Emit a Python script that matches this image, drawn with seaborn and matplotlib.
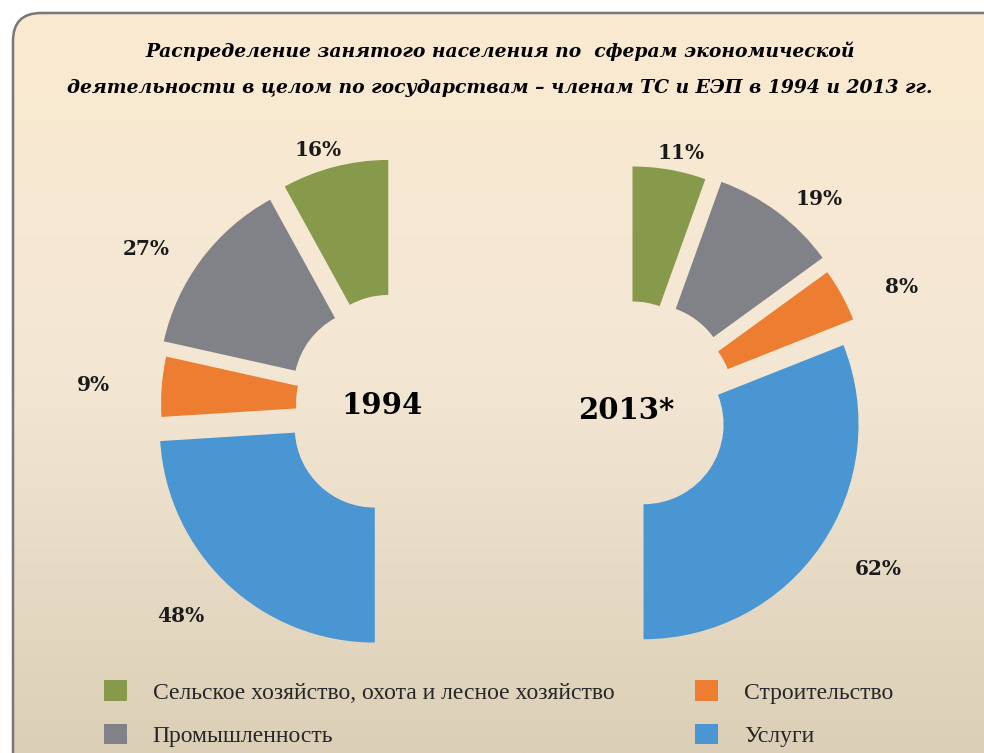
import numpy as np
import matplotlib.pyplot as plt
import matplotlib.patches as mpatches
from matplotlib.colors import LinearSegmentedColormap
import seaborn as sns

# данные
categories = ["Сельское хозяйство, охота и лесное хозяйство", "Промышленность",
              "Строительство", "Услуги"]
share_1994 = [16, 27, 9, 48]
share_2013 = [11, 19, 8, 62]
years = ["1994", "2013*"]
title = ("Распределение занятого населения по  сферам экономической\n"
         "деятельности в целом по государствам – членам ТС и ЕЭП в 1994 и 2013 гг.")

colors = ["#87994B", "#808287", "#ED7D31", "#4A96D3"]

sns.set_theme(style="white")
plt.rcParams['font.family'] = ['DejaVu Serif']

W, H = 984, 753
fig = plt.figure(figsize=(W / 100, H / 100), dpi=100)
fig.patch.set_facecolor("white")

# фон с градиентом и рамкой
ax_bg = fig.add_axes([0, 0, 1, 1])
ax_bg.set_xlim(0, W)
ax_bg.set_ylim(0, H)
ax_bg.axis("off")
cmap = LinearSegmentedColormap.from_list("bg", ["#DCCFB7", "#F3E7D4", "#FBEAD1"])
grad = np.linspace(0, 1, 256).reshape(-1, 1)
im = ax_bg.imshow(grad, cmap=cmap, extent=[0, W, 0, H], origin="lower", aspect="auto")
box = mpatches.FancyBboxPatch((13, -30), W + 30, H - 13 + 30,
                              boxstyle="round,pad=0,rounding_size=28",
                              facecolor="none", edgecolor="#777777", linewidth=1.8)
ax_bg.add_patch(box)
im.set_clip_path(box)

ax = fig.add_axes([0, 0, 1, 1])
ax.patch.set_alpha(0)


def half_donut(values, center, counterclock, expl):
    vals = list(values) + [sum(values)]  # невидимая половина
    labels = [f"{v}%" for v in values] + [""]
    wedges, texts = ax.pie(vals, labels=labels, colors=colors + ["none"],
                           startangle=90, counterclock=counterclock,
                           center=center, radius=215,
                           explode=list(expl) + [0],
                           labeldistance=1.2,
                           wedgeprops=dict(width=135, linewidth=0),
                           textprops=dict(ha="center", va="center", fontsize=14.5,
                                          fontweight="bold", color="#1a1a1a"))
    wedges[-1].set_visible(False)
    # подписи чуть шире по горизонтали, верхние чуть ниже
    for w, t in zip(wedges, texts):
        cx, cy = w.center
        x, y = t.get_position()
        ky = 0.9 if y > cy else 1.0
        t.set_position((cx + 1.1 * (x - cx), cy + ky * (y - cy)))
    return wedges


w1 = half_donut(share_1994, (396, H - 405), True, [31, 28, 20, 31])
w2 = half_donut(share_2013, (627, H - 413), False, [32, 36, 30, 20])

ax.set_xlim(0, W)
ax.set_ylim(0, H)
ax.set_aspect("equal")
ax.axis("off")

ax.text(382, H - 405, years[0], ha="center", va="center", fontsize=21,
        fontweight="bold", color="black")
ax.text(626, H - 410, years[1], ha="center", va="center", fontsize=21,
        fontweight="bold", color="black")

ax.text(500, H - 69, title, ha="center", va="center", fontsize=13.5,
        fontweight="bold", fontstyle="italic", linespacing=2.3, color="black")

leg_kw = dict(frameon=False, handlelength=0.95, handleheight=0.95,
              handletextpad=1.1, labelspacing=0.85, borderaxespad=0,
              prop=dict(family="Liberation Serif", size=17))
leg1 = ax.legend(w1[:2], categories[:2], loc="upper left",
                 bbox_to_anchor=(95 / W, 1 - 671 / H), **leg_kw)
ax.add_artist(leg1)
ax.legend(w1[2:4], categories[2:], loc="upper left",
          bbox_to_anchor=(686 / W, 1 - 671 / H), **leg_kw)

fig.savefig("out.png", dpi=100)
